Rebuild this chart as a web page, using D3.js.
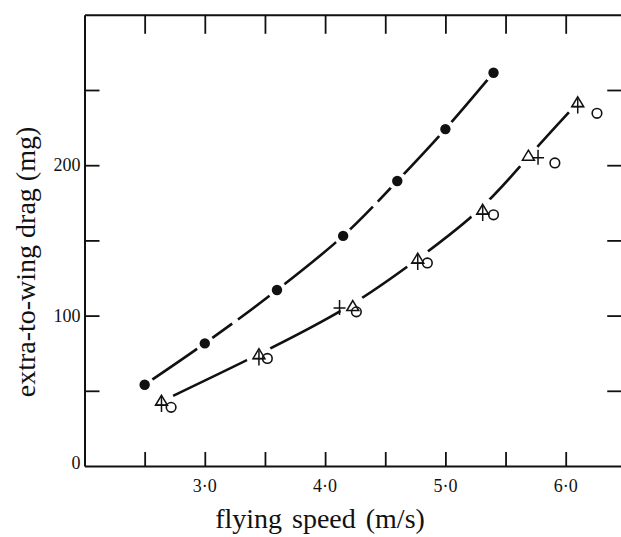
<!DOCTYPE html>
<html>
<head>
<meta charset="utf-8">
<script src="https://cdn.jsdelivr.net/npm/d3@7"></script>
<style>
  html, body { margin: 0; padding: 0; background: #fff; }
  svg { display: block; }
  text { font-family: "Liberation Serif", "Times New Roman", serif; fill: #111; }
</style>
</head>
<body>
<svg id="chart" width="621" height="537"></svg>
<script>
// Flying speed (m/s) against extra-to-wing drag (mg)
const speedTicks = [2.5, 3.0, 3.5, 4.0, 4.5, 5.0, 5.5, 6.0];
const speedLabels = [3.0, 4.0, 5.0, 6.0];
const dragTicks = [50, 100, 150, 200, 250];
const dragLabels = [0, 100, 200];

// filled circles
const speedFilled = [2.5, 3.0, 3.6, 4.15, 4.6, 5.0, 5.4];
const dragFilled  = [54, 81.5, 117, 153, 189.5, 224, 261.5];

// open triangles
const speedTriangle = [2.64, 3.45, 4.23, 4.77, 5.31, 5.69, 6.10];
const dragTriangle  = [43, 74, 106, 137.5, 170, 206, 241.5];

// crosses
const speedCross = [2.64, 3.45, 4.12, 4.77, 5.31, 5.77, 6.10];
const dragCross  = [40.5, 71.5, 105, 135, 167.5, 205, 239];

// open circles
const speedCircle = [2.72, 3.52, 4.26, 4.85, 5.40, 5.91, 6.26];
const dragCircle  = [39, 71.5, 102.5, 135, 167, 201.5, 234.5];

const xLabel = "flying speed (m/s)";
const yLabel = "extra-to-wing drag (mg)";

const svg = d3.select("#chart");
svg.append("rect").attr("width", 621).attr("height", 537).attr("fill", "#fff");

const x = d3.scaleLinear().domain([2, 6.5]).range([84.5, 625.85]);
const y = d3.scaleLinear().domain([0, 300]).range([466, 14.8]);

const zip = (a, b) => a.map((v, i) => [v, b[i]]);
const filled = zip(speedFilled, dragFilled);
const triangles = zip(speedTriangle, dragTriangle);
const crosses = zip(speedCross, dragCross);
const circles = zip(speedCircle, dragCircle);

// axes: all ticks point inwards
const styleAxis = g => {
  g.select(".domain").attr("stroke", "#111").attr("stroke-width", 2);
  g.selectAll(".tick line").attr("stroke", "#111").attr("stroke-width", 1.8);
};

svg.append("g").attr("transform", `translate(0,${y(0)})`)
  .call(d3.axisBottom(x).tickValues(speedTicks).tickSize(-14).tickSizeOuter(0).tickFormat(""))
  .call(styleAxis);
svg.append("g").attr("transform", `translate(0,${y(300)})`)
  .call(d3.axisTop(x).tickValues(speedTicks).tickSize(-19).tickSizeOuter(0).tickFormat(""))
  .call(styleAxis);
svg.append("g").attr("transform", `translate(${x(2)},0)`)
  .call(d3.axisLeft(y).tickValues(dragTicks).tickSize(-15).tickSizeOuter(0).tickFormat(""))
  .call(styleAxis);
svg.append("g").attr("transform", `translate(${x(6.47)},0)`)
  .call(d3.axisRight(y).tickValues(dragTicks).tickSize(-15).tickSizeOuter(0).tickFormat(""))
  .call(styleAxis);

// tick labels
svg.append("g").selectAll("text").data(speedLabels).join("text")
  .attr("x", d => x(d)).attr("y", 492)
  .attr("text-anchor", "middle").attr("font-size", 18)
  .text(d => d.toFixed(1).replace(".", "\u00B7"));
svg.append("g").selectAll("text").data(dragLabels).join("text")
  .attr("x", x(2) - 4).attr("y", d => y(d) + 6 - (d === 0 ? 3 : 0))
  .attr("text-anchor", "end").attr("font-size", 18)
  .text(d => d);

// axis titles
svg.append("text").attr("x", 320).attr("y", 528)
  .attr("text-anchor", "middle").attr("font-size", 28).attr("word-spacing", 3).text(xLabel);
svg.append("text").attr("transform", "translate(35,262) rotate(-90)")
  .attr("text-anchor", "middle").attr("font-size", 28).text(yLabel);

// fitted curves
const upperLine = d3.line().x(d => x(d[0])).y(d => y(d[1])).curve(d3.curveCatmullRom.alpha(0.5));
const lowerLine = d3.line().x(d => x(d[0])).y(d => y(d[1])).curve(d3.curveBasis);
const curves = svg.append("g").attr("fill", "none").attr("stroke", "#111")
  .attr("stroke-width", 2.6).attr("stroke-linecap", "butt");
curves.append("path").attr("d", upperLine(filled)).attr("stroke-dasharray", "107 7 176 7 1000");
curves.append("path").attr("d", lowerLine(triangles));

// white gaps where the curves meet the points
const halos = svg.append("g").attr("fill", "#fff");
halos.selectAll(".hf").data(filled).join("circle")
  .attr("cx", d => x(d[0])).attr("cy", d => y(d[1])).attr("r", 9.5);
halos.selectAll(".ht").data(triangles).join("circle")
  .attr("cx", d => x(d[0])).attr("cy", d => y(d[1])).attr("r", 13);

// markers
svg.append("g").selectAll("circle").data(filled).join("circle")
  .attr("cx", d => x(d[0])).attr("cy", d => y(d[1])).attr("r", 5.2).attr("fill", "#111");

const tri = d3.path();
tri.moveTo(0, -6); tri.lineTo(6, 4); tri.lineTo(-6, 4); tri.closePath();
svg.append("g").selectAll("path").data(triangles).join("path")
  .attr("transform", d => `translate(${x(d[0])},${y(d[1])})`)
  .attr("d", tri.toString())
  .attr("fill", "none").attr("stroke", "#111").attr("stroke-width", 1.5).attr("stroke-linejoin", "miter");

svg.append("g").selectAll("path").data(crosses).join("path")
  .attr("transform", d => `translate(${x(d[0])},${y(d[1])})`)
  .attr("d", "M-6,0H6M0,-8V7")
  .attr("fill", "none").attr("stroke", "#111").attr("stroke-width", 1.5);

svg.append("g").selectAll("circle").data(circles).join("circle")
  .attr("cx", d => x(d[0])).attr("cy", d => y(d[1])).attr("r", 4.8)
  .attr("fill", "none").attr("stroke", "#111").attr("stroke-width", 1.6);
</script>
</body>
</html>
